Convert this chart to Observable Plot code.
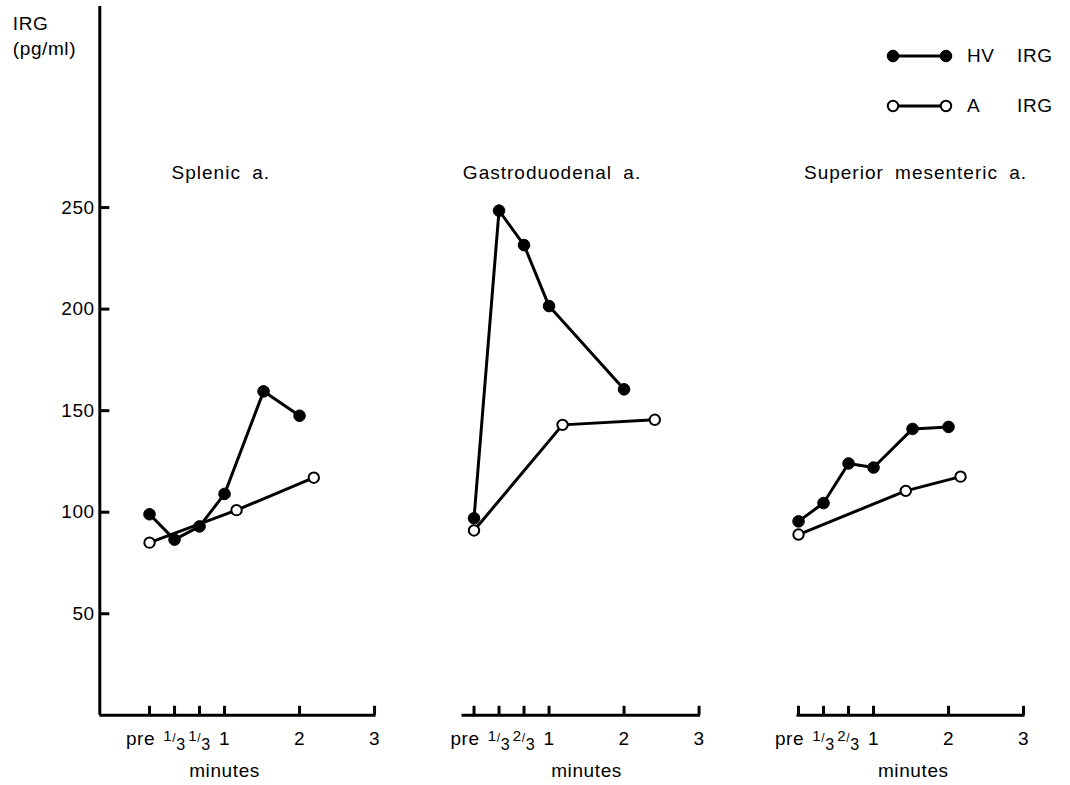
<!DOCTYPE html>
<html>
<head>
<meta charset="utf-8">
<script src="https://cdn.jsdelivr.net/npm/d3@7"></script>
<script src="https://cdn.jsdelivr.net/npm/@observablehq/plot@0.6"></script>
<style>
  html, body { margin: 0; padding: 0; background: #fff; }
  #wrap { position: relative; width: 1070px; height: 785px; font-family: "Liberation Sans", Arial, Helvetica, sans-serif; color: #000; }
  #wrap svg text { letter-spacing: 0.6px; }
  #wrap svg g.title text { letter-spacing: 1px; word-spacing: 5px; }
  .legend { position: absolute; left: 884px; font-size: 19px; line-height: 20px; height: 20px; letter-spacing: 0.6px; }
  .legend svg { position: absolute; left: 0; top: 0; }
  .legend .k { position: absolute; left: 83px; top: 0; white-space: nowrap; }
  .legend .u { position: absolute; left: 133px; top: 0; white-space: nowrap; }
</style>
</head>
<body>
<div id="wrap"></div>
<script>
// ---------- data ----------
const panels = ["Splenic a.", "Gastroduodenal a.", "Superior mesenteric a."];

// time in minutes (pre = 0)
const splenicHV_t = [0, 1/3, 2/3, 1, 1.52, 2];
const splenicHV_v = [99, 86.5, 93, 109, 159.5, 147.5];
const splenicA_t  = [0, 1.16, 2.19];
const splenicA_v  = [85, 101, 117];

const gastroHV_t = [0, 1/3, 2/3, 1, 2];
const gastroHV_v = [97, 248.5, 231.5, 201.5, 160.5];
const gastroA_t  = [0, 1.18, 2.41];
const gastroA_v  = [91, 143, 145.5];

const supHV_t = [0, 1/3, 2/3, 1, 1.52, 2];
const supHV_v = [95.5, 104.5, 124, 122, 141, 142];
const supA_t  = [0, 1.43, 2.16];
const supA_v  = [89, 110.5, 117.5];

const yTicks = [50, 100, 150, 200, 250];
const xTicks = [0, 1/3, 2/3, 1, 2, 3];
const xTickLabelsSplenic = ["pre", "1/3", "1/3", "1", "2", "3"];
const xTickLabels = ["pre", "1/3", "2/3", "1", "2", "3"];

// ---------- layout ----------
const W = 1070, H = 785;
const mL = 99.3, mR = 44.7, mT = 6, mB = 70.2;
const xMin = -0.663, xMax = 3.03, yMax = 349;
const frameH = H - mT - mB;
const bandW = 277;
const axisStart = [xMin, -0.16, -0.02];
const axisEnd = 3.02;
const titleX = [0.95, 1.04, 1.56];
const minutesX = [1.0, 1.5, 1.53];

function rows(panel, series, ts, vs) {
  return ts.map((t, i) => ({panel, series, t, v: vs[i]}));
}
const data = [
  ...rows(panels[0], "HV", splenicHV_t, splenicHV_v),
  ...rows(panels[0], "A", splenicA_t, splenicA_v),
  ...rows(panels[1], "HV", gastroHV_t, gastroHV_v),
  ...rows(panels[1], "A", gastroA_t, gastroA_v),
  ...rows(panels[2], "HV", supHV_t, supHV_v),
  ...rows(panels[2], "A", supA_t, supA_v)
];
const tickRows = panels.flatMap((p, pi) =>
  xTicks.map((t, i) => ({panel: p, t, label: (pi === 0 ? xTickLabelsSplenic : xTickLabels)[i]})));

const FS = 19;
const chart = Plot.plot({
  width: W, height: H,
  marginLeft: mL, marginRight: mR, marginTop: mT, marginBottom: mB,
  fx: {domain: panels, axis: null, paddingInner: 1 - bandW / 324.5, paddingOuter: 0, round: false},
  x: {domain: [xMin, xMax], axis: null},
  y: {domain: [0, yMax], axis: null},
  style: {fontFamily: '"Liberation Sans", Arial, Helvetica, sans-serif', fontSize: FS + "px", color: "#000", background: "#fff", overflow: "visible"},
  marks: [
    // y axis line (first panel only)
    Plot.ruleX([panels[0]], {fx: d => d, x: xMin, strokeWidth: 3}),
    // x axis lines per panel
    Plot.ruleY(panels, {fx: d => d, y: 0, x1: (d, i) => axisStart[i], x2: axisEnd, strokeWidth: 3}),
    // x ticks (upward)
    Plot.ruleX(xTicks, {x: d => d, insetTop: frameH - 9, strokeWidth: 3}),
    // y ticks (inward)
    Plot.ruleY(yTicks, {fx: () => panels[0], y: d => d, insetRight: bandW - 10, strokeWidth: 3}),
    // y tick labels
    Plot.text(yTicks, {fx: () => panels[0], y: d => d, text: d => String(d), frameAnchor: "left", textAnchor: "end", dx: -5, fontSize: FS}),
    // x tick labels
    Plot.text(tickRows.filter(d => d.label === "pre"), {fx: "panel", x: "t", text: "label", frameAnchor: "bottom", dy: 30, dx: -9, fontSize: FS}),
    Plot.text(tickRows.filter(d => d.label !== "pre"), {fx: "panel", x: "t", text: "label", frameAnchor: "bottom", dy: 30, fontSize: FS}),
    // "minutes"
    Plot.text(panels, {fx: d => d, x: (d, i) => minutesX[i], text: () => "minutes", frameAnchor: "bottom", dy: 62, fontSize: FS}),
    // panel titles
    Plot.text(panels, {fx: d => d, x: (d, i) => titleX[i], text: d => d, frameAnchor: "top", dy: 159, fontSize: FS, className: "title"}),
    // y label
    Plot.text([panels[0]], {fx: d => d, text: () => "IRG\n(pg/ml)", frameAnchor: "top-left", textAnchor: "start", lineAnchor: "top", dx: -87, dy: 5, lineHeight: 1.35, fontSize: FS}),
    // series
    Plot.line(data, {fx: "panel", x: "t", y: "v", z: "series", stroke: "#000", strokeWidth: 3, strokeLinejoin: "round"}),
    Plot.dot(data.filter(d => d.series === "HV"), {fx: "panel", x: "t", y: "v", r: 5.8, fill: "#000", stroke: "#000", strokeWidth: 1}),
    Plot.dot(data.filter(d => d.series === "A"), {fx: "panel", x: "t", y: "v", r: 5.2, fill: "#fff", stroke: "#000", strokeWidth: 2})
  ]
});

// render stacked fractions (e.g. 1/3) as real text with tspans
const NS = "http://www.w3.org/2000/svg";
chart.querySelectorAll("text").forEach(t => {
  const m = /^(\d)\/(\d)$/.exec(t.textContent.trim());
  if (!m) return;
  t.textContent = "";
  t.setAttribute("letter-spacing", "0");
  const mk = (txt, size, dy) => {
    const s = document.createElementNS(NS, "tspan");
    s.setAttribute("font-size", size);
    s.setAttribute("dy", dy);
    s.textContent = txt;
    t.appendChild(s);
  };
  mk(m[1], 15, -4);
  mk("/", 12, 1);
  mk(m[2], 16, 8);
});

const wrap = document.getElementById("wrap");
wrap.appendChild(chart);

// legend
function legendRow(top, filled, key) {
  const div = document.createElement("div");
  div.className = "legend";
  div.style.top = top + "px";
  const fill = filled ? "#000" : "#fff";
  const r = filled ? 5.8 : 5.2;
  const sw = filled ? 1 : 2;
  div.innerHTML =
    `<svg width="72" height="20" style="overflow:visible">
       <line x1="9" y1="10" x2="62" y2="10" stroke="#000" stroke-width="3"/>
       <circle cx="9" cy="10" r="${r}" fill="${fill}" stroke="#000" stroke-width="${sw}"/>
       <circle cx="62" cy="10" r="${r}" fill="${fill}" stroke="#000" stroke-width="${sw}"/>
     </svg><span class="k">${key}</span><span class="u">IRG</span>`;
  wrap.appendChild(div);
}
legendRow(46, true, "HV");
legendRow(96, false, "A");
</script>
</body>
</html>
